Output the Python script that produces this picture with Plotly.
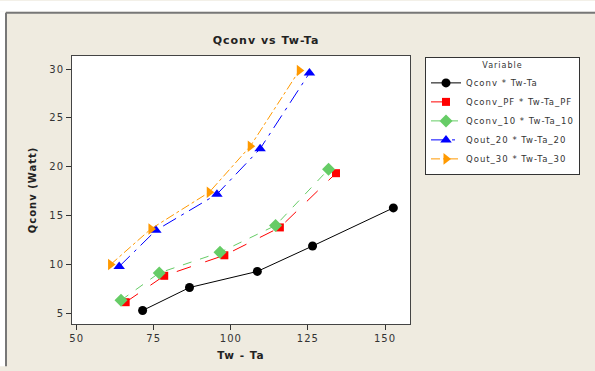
import plotly.graph_objects as go

series_names = ["Qconv * Tw-Ta", "Qconv_PF * Tw-Ta_PF", "Qconv_10 * Tw-Ta_10",
                "Qout_20 * Tw-Ta_20", "Qout_30 * Tw-Ta_30"]
x_qconv = [71.4, 86.6, 108.6, 126.5, 152.7]
y_qconv = [5.3, 7.65, 9.3, 11.9, 15.8]
x_pf = [65.9, 78.4, 97.9, 115.9, 134.1]
y_pf = [6.15, 8.85, 10.95, 13.8, 19.35]
x_10 = [64.4, 76.8, 96.5, 114.5, 131.7]
y_10 = [6.35, 9.15, 11.25, 14.0, 19.75]
x_20 = [63.8, 75.7, 95.5, 109.5, 125.5]
y_20 = [9.8, 13.5, 17.2, 21.85, 29.6]
x_30 = [61.0, 74.1, 93.0, 106.3, 122.2]
y_30 = [10.0, 13.65, 17.4, 22.1, 29.85]

x_ticks = [50, 75, 100, 125, 150]
y_ticks = [5, 10, 15, 20, 25, 30]


def sp(text, px=1):
    return f"<span style='letter-spacing:{px}px'>{text}</span>"


styles = [
    dict(color="black", dash="solid", symbol="circle", size=9),
    dict(color="#FF0000", dash="longdash", symbol="square", size=8),
    dict(color="#66CC66", dash="dash", symbol="diamond", size=10),
    dict(color="#0000FF", dash="longdashdot", symbol="triangle-up", size=10),
    dict(color="#FF9900", dash="dashdot", symbol="triangle-right", size=10),
]
data = [(x_qconv, y_qconv), (x_pf, y_pf), (x_10, y_10), (x_20, y_20), (x_30, y_30)]

fig = go.Figure()
for name, (xs, ys), st in zip(series_names, data, styles):
    fig.add_trace(go.Scatter(
        x=xs, y=ys, name=sp(name), mode="lines+markers",
        line=dict(color=st["color"], dash=st["dash"], width=1),
        marker=dict(color=st["color"], symbol=st["symbol"], size=st["size"]),
    ))

L, R, T, B = 72, 410, 56, 328
W, H = 595, 371
pw, ph = R - L, B - T


def px(x):
    return (x - L) / pw


def py(y):
    return (B - y) / ph


font = "DejaVu Sans"
fig.update_layout(
    width=W, height=H,
    margin=dict(l=L, r=W - R, t=T, b=H - B),
    paper_bgcolor="#EFEBE0",
    plot_bgcolor="white",
    font=dict(family=font, size=10, color="#333333"),
    title=dict(text="<b>" + sp("Qconv vs Tw-Ta") + "</b>", x=266 / W, xanchor="center",
               y=1 - 40 / H, yanchor="middle", font=dict(size=11, color="#222222")),
    xaxis=dict(range=[48.5, 158.1], tickvals=x_ticks, ticktext=[sp(str(v)) for v in x_ticks],
               ticks="outside", ticklen=5,
               tickcolor="#333333", showline=True, linecolor="#444444", linewidth=1,
               mirror=True, showgrid=False, zeroline=False,
               title=dict(text="<b>" + sp("Tw - Ta") + "</b>", font=dict(size=10.5, color="#222222"), standoff=8)),
    yaxis=dict(range=[3.92, 31.34], tickvals=y_ticks, ticktext=[sp(str(v)) for v in y_ticks],
               ticks="outside", ticklen=5,
               tickcolor="#333333", showline=True, linecolor="#444444", linewidth=1,
               mirror=True, showgrid=False, zeroline=False,
               title=dict(text="<b>" + sp("Qconv (Watt)") + "</b>", font=dict(size=10, color="#222222"), standoff=10)),
    legend=dict(x=px(425), y=py(57), xanchor="left", yanchor="top",
                bgcolor="white", bordercolor="#333333", borderwidth=1,
                font=dict(size=8.5, color="#333333"),
                title=dict(text=sp("Variable"), side="top center", font=dict(size=8, color="#333333")),
                itemwidth=30, tracegroupgap=0),
    showlegend=True,
)

# white strips outside the grey frame, and the grey frame lines
fig.add_shape(type="rect", xref="paper", yref="paper", x0=px(0), x1=px(W), y0=py(11), y1=py(0),
              fillcolor="white", line=dict(width=0), layer="below")
fig.add_shape(type="rect", xref="paper", yref="paper", x0=px(0), x1=px(5), y0=py(H), y1=py(11),
              fillcolor="white", line=dict(width=0), layer="below")
fig.add_shape(type="line", xref="paper", yref="paper", x0=px(6), x1=px(W), y0=py(12), y1=py(12),
              line=dict(color="#777777", width=2))
fig.add_shape(type="line", xref="paper", yref="paper", x0=px(6), x1=px(6), y0=py(12), y1=py(H),
              line=dict(color="#777777", width=2))

fig.write_html("out.html")
